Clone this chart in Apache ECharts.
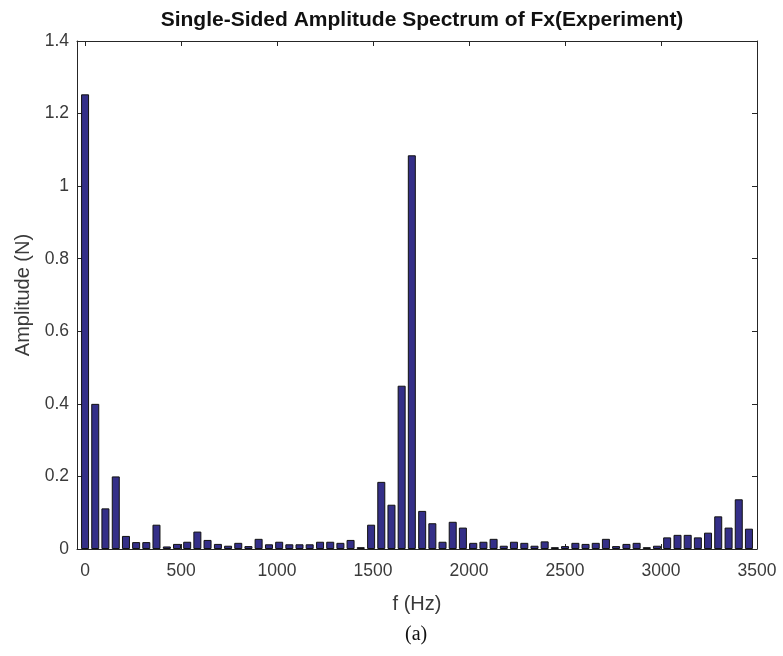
<!DOCTYPE html>
<html>
<head>
<meta charset="utf-8">
<script src="https://cdn.jsdelivr.net/npm/echarts@6/dist/echarts.min.js"></script>
<style>
html,body{margin:0;padding:0;background:#fff;}
#chart{width:783px;height:656px;}
</style>
</head>
<body>
<div id="chart"></div>
<script>
// FFT bin frequencies (Hz)
var freqs = [0, 53, 106, 160, 213, 266, 319, 372, 426, 479,
  532, 585, 638, 692, 745, 798, 851, 904, 958, 1011,
  1064, 1117, 1170, 1224, 1277, 1330, 1383, 1436, 1490, 1543,
  1596, 1649, 1702, 1756, 1809, 1862, 1915, 1968, 2022, 2075,
  2128, 2181, 2234, 2288, 2341, 2394, 2447, 2500, 2554, 2607,
  2660, 2713, 2766, 2820, 2873, 2926, 2979, 3032, 3086, 3139,
  3192, 3245, 3298, 3352, 3405, 3458];
// Amplitude (N)
var amplitudes = [1.253, 0.40, 0.112, 0.20, 0.036, 0.019, 0.019, 0.067, 0.007, 0.014,
  0.020, 0.048, 0.025, 0.014, 0.009, 0.017, 0.008, 0.028, 0.013, 0.020,
  0.013, 0.013, 0.013, 0.020, 0.020, 0.017, 0.025, 0.005, 0.067, 0.185,
  0.122, 0.450, 1.085, 0.105, 0.071, 0.020, 0.075, 0.059, 0.017, 0.020,
  0.028, 0.009, 0.020, 0.017, 0.009, 0.021, 0.005, 0.008, 0.017, 0.014,
  0.017, 0.028, 0.008, 0.014, 0.017, 0.005, 0.009, 0.032, 0.039, 0.039,
  0.032, 0.045, 0.090, 0.059, 0.137, 0.056];
var xTicks = [0, 500, 1000, 1500, 2000, 2500, 3000, 3500];
var yTicks = [0, 0.2, 0.4, 0.6, 0.8, 1, 1.2, 1.4];

var titleText = 'Single-Sided Amplitude Spectrum of Fx(Experiment)';
var xName = 'f (Hz)';
var yName = 'Amplitude (N)';
var caption = '(a)';

var seriesData = freqs.map(function (f, i) { return [f, amplitudes[i]]; });

var axisCol = '#262626';
var labelCol = '#3a3a3a';
var fontFam = '"Liberation Sans", Arial, Helvetica, sans-serif';

var chart = echarts.init(document.getElementById('chart'), null, {renderer: 'canvas'});
var xmin = -42, xmax = 3500;
chart.setOption({
  animation: false,
  backgroundColor: '#ffffff',
  title: {
    text: titleText,
    left: 417, top: 5, textAlign: 'center',
    textStyle: {fontFamily: fontFam, fontSize: 21, fontWeight: 'bold', color: '#111'}
  },
  grid: {left: 77, right: 26, top: 41, bottom: 107, containLabel: false},
  xAxis: [{
    type: 'value', min: xmin, max: xmax,
    name: xName, nameLocation: 'middle', nameGap: 45,
    nameTextStyle: {fontFamily: fontFam, fontSize: 20, color: labelCol},
    axisLine: {show: true, onZero: false, lineStyle: {color: axisCol, width: 1}},
    axisTick: {show: true, inside: true, length: 5, customValues: xTicks, lineStyle: {color: axisCol}},
    axisLabel: {show: true, customValues: xTicks, margin: 13, fontFamily: fontFam, fontSize: 17.5, color: labelCol,
      formatter: function (v) { return String(v); }},
    splitLine: {show: false}
  }, {
    type: 'value', min: xmin, max: xmax, position: 'top',
    axisLine: {show: true, onZero: false, lineStyle: {color: axisCol, width: 1}},
    axisTick: {show: true, inside: true, length: 5, customValues: xTicks, lineStyle: {color: axisCol}},
    axisLabel: {show: false},
    splitLine: {show: false}
  }],
  yAxis: [{
    type: 'value', min: 0, max: 1.4, interval: 0.2,
    name: yName, nameLocation: 'middle', nameGap: 37, nameRotate: 90,
    nameTextStyle: {fontFamily: fontFam, fontSize: 20, color: labelCol},
    axisLine: {show: true, onZero: false, lineStyle: {color: axisCol, width: 1}},
    axisTick: {show: true, inside: true, length: 5, lineStyle: {color: axisCol}},
    axisLabel: {show: true, margin: 8, fontFamily: fontFam, fontSize: 17.5, color: labelCol,
      formatter: function (v) { return String(Math.round(v * 10) / 10); }},
    splitLine: {show: false}
  }, {
    type: 'value', min: 0, max: 1.4, interval: 0.2, position: 'right',
    axisLine: {show: true, onZero: false, lineStyle: {color: axisCol, width: 1}},
    axisTick: {show: true, inside: true, length: 5, lineStyle: {color: axisCol}},
    axisLabel: {show: false},
    splitLine: {show: false}
  }],
  graphic: [{
    type: 'text', left: 405, top: 625,
    style: {text: caption, font: '20px "Liberation Serif", "Times New Roman", serif', fill: '#111'}
  }],
  series: [{
    type: 'bar',
    xAxisIndex: 0, yAxisIndex: 0,
    data: seriesData,
    barWidth: 8,
    itemStyle: {color: '#342f88', borderColor: '#111111', borderWidth: 1}
  }]
});
</script>
</body>
</html>
